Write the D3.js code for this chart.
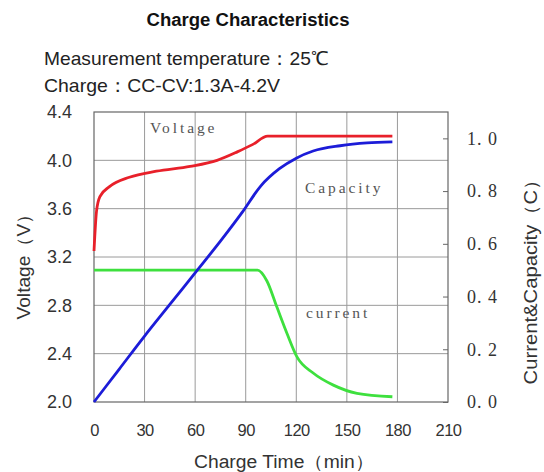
<!DOCTYPE html>
<html>
<head>
<meta charset="utf-8">
<script src="https://cdn.jsdelivr.net/npm/d3@7"></script>
<style>
  body { margin: 0; background: #fff; }
  svg { display: block; }
</style>
</head>
<body>
<svg id="chart"></svg>
<script>
// values
const voltage = [
  [0, 3.25], [1.5, 3.58], [3.5, 3.70], [9, 3.78], [21, 3.86], [37, 3.91],
  [57, 3.95], [73, 4.00], [85, 4.07], [94, 4.13], [103, 4.20], [177, 4.20]
];
const capacity = [
  [0, 0], [15, 0.125], [30, 0.25], [45, 0.37], [60, 0.49], [75, 0.61],
  [88, 0.72], [99, 0.82], [110, 0.885], [120, 0.925], [130, 0.952],
  [146, 0.972], [162, 0.983], [177, 0.987]
];
const current = [
  [0, 0.5], [97, 0.5], [102.5, 0.46], [108.5, 0.36], [114.5, 0.26],
  [120.5, 0.17], [130, 0.11], [142, 0.064], [156, 0.033], [177, 0.02]
];
const xTicks = [0, 30, 60, 90, 120, 150, 180, 210];
const leftTicks = [2.0, 2.4, 2.8, 3.2, 3.6, 4.0, 4.4];
const rightTicks = [0.0, 0.2, 0.4, 0.6, 0.8, 1.0];

const width = 544, height = 472;
const plotL = 94, plotR = 448, plotT = 112, plotB = 402;

const svg = d3.select("#chart").attr("width", width).attr("height", height);

const x = d3.scaleLinear().domain([0, 210]).range([plotL, plotR]);
const yL = d3.scaleLinear().domain([2.0, 4.4]).range([plotB, plotT]);
const yR = d3.scaleLinear().domain([0, 1.1]).range([plotB, plotT]);

const sans = "Liberation Sans, Arial, sans-serif";
const serif = "Liberation Serif, DejaVu Serif, serif";

// titles (textLength keeps them as wide as in the source image)
svg.append("text").attr("x", 248).attr("y", 26).attr("text-anchor", "middle")
  .style("font", `bold 18px ${sans}`).attr("fill", "#111")
  .attr("textLength", 203).attr("lengthAdjust", "spacingAndGlyphs")
  .text("Charge Characteristics");
svg.append("text").attr("x", 44).attr("y", 65)
  .style("font", `19px ${sans}`).attr("fill", "#222")
  .attr("textLength", 285).attr("lengthAdjust", "spacingAndGlyphs")
  .text("Measurement temperature：25℃");
svg.append("text").attr("x", 44).attr("y", 92)
  .style("font", `19px ${sans}`).attr("fill", "#222")
  .attr("textLength", 236).attr("lengthAdjust", "spacingAndGlyphs")
  .text("Charge：CC-CV:1.3A-4.2V");

// grid
const grid = svg.append("g").attr("stroke", "#9a9a9a").attr("stroke-width", 1);
grid.selectAll(".vg").data(xTicks.slice(1, -1)).join("line")
  .attr("x1", d => x(d)).attr("x2", d => x(d)).attr("y1", plotT).attr("y2", plotB);
grid.selectAll(".hg").data(leftTicks.slice(1, -1)).join("line")
  .attr("x1", plotL).attr("x2", plotR).attr("y1", d => yL(d)).attr("y2", d => yL(d));

svg.append("rect").attr("x", plotL).attr("y", plotT)
  .attr("width", plotR - plotL).attr("height", plotB - plotT)
  .attr("fill", "none").attr("stroke", "#666").attr("stroke-width", 1.2);

// axes
const xAxis = svg.append("g").attr("transform", `translate(0,${plotB})`)
  .call(d3.axisBottom(x).tickValues(xTicks).tickSize(0).tickPadding(22));
const lAxis = svg.append("g").attr("transform", `translate(${plotL},0)`)
  .call(d3.axisLeft(yL).tickValues(leftTicks).tickSize(0).tickPadding(22).tickFormat(d3.format(".1f")));
const rAxis = svg.append("g").attr("transform", `translate(${plotR},0)`)
  .call(d3.axisLeft(yR).tickValues(rightTicks).tickSize(5).tickFormat(d => d.toFixed(1).replace(".", ". ")));

xAxis.select(".domain").remove();
xAxis.selectAll("text").style("font", `16.5px ${sans}`).style("letter-spacing", "-0.5px").attr("fill", "#333");
lAxis.select(".domain").remove();
lAxis.selectAll("text").style("font", `18px ${sans}`).attr("fill", "#333");
rAxis.select(".domain").remove();
rAxis.selectAll("line").attr("stroke", "#666");
rAxis.selectAll("text").attr("x", 19).attr("text-anchor", "start")
  .style("font", `18px ${serif}`).style("letter-spacing", "1px").attr("fill", "#333");

// axis titles
svg.append("text").attr("x", 284).attr("y", 468).attr("text-anchor", "middle")
  .style("font", `18px ${sans}`).attr("fill", "#333")
  .attr("textLength", 180).attr("lengthAdjust", "spacingAndGlyphs")
  .text("Charge Time（min）");
svg.append("text").attr("transform", "translate(30,262) rotate(-90)").attr("text-anchor", "middle")
  .style("font", `18px ${sans}`).attr("fill", "#333")
  .attr("textLength", 115).attr("lengthAdjust", "spacingAndGlyphs")
  .text("Voltage（V）");
svg.append("text").attr("transform", "translate(537,277) rotate(-90)").attr("text-anchor", "middle")
  .style("font", `18px ${sans}`).attr("fill", "#333")
  .attr("textLength", 215).attr("lengthAdjust", "spacingAndGlyphs")
  .text("Current&Capacity（C）");

// curves
const lineL = d3.line().x(d => x(d[0])).y(d => yL(d[1])).curve(d3.curveMonotoneX);
const lineR = d3.line().x(d => x(d[0])).y(d => yR(d[1])).curve(d3.curveMonotoneX);

svg.append("path").datum(current).attr("d", lineR)
  .attr("fill", "none").attr("stroke", "#3ee03e").attr("stroke-width", 2.8);
svg.append("path").datum(capacity).attr("d", lineR)
  .attr("fill", "none").attr("stroke", "#1c1cd8").attr("stroke-width", 2.8);
svg.append("path").datum(voltage).attr("d", lineL)
  .attr("fill", "none").attr("stroke", "#e8202a").attr("stroke-width", 2.8);

// curve labels
const labels = [["Voltage", 150, 133], ["Capacity", 305, 193], ["current", 306, 318]];
svg.selectAll(".lbl").data(labels).join("text")
  .attr("x", d => d[1]).attr("y", d => d[2])
  .style("font", `15.5px ${serif}`).style("letter-spacing", "2.9px")
  .attr("fill", "#555").text(d => d[0]);
</script>
</body>
</html>
